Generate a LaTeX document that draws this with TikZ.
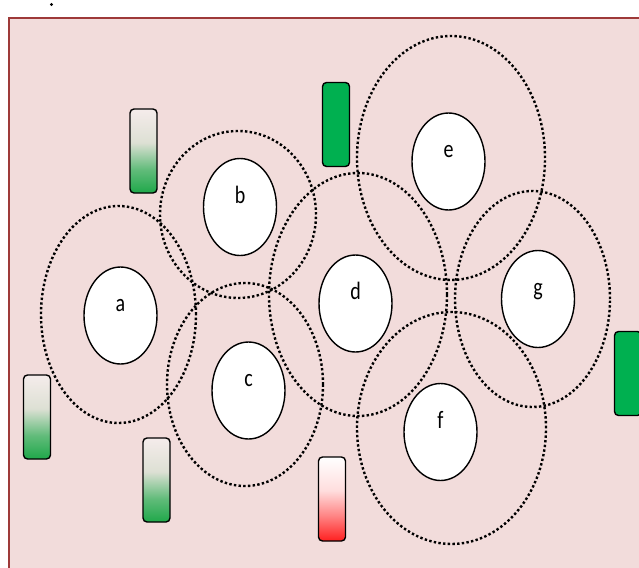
\documentclass[tikz,border=0pt]{standalone}
\usepackage{fontspec}
\setmainfont{Carlito}
\usetikzlibrary{shapes.geometric}
\definecolor{panelfill}{HTML}{F2DCDB}
\definecolor{panelline}{HTML}{9E3A39}
\definecolor{leafgreen}{HTML}{00B050}
\definecolor{fadegreen}{HTML}{1FA84A}
\definecolor{fadetop}{HTML}{F5ECEB}
\definecolor{fademid}{HTML}{DDE0D4}
\definecolor{hotred}{HTML}{FF1F1F}
% gradients: the central 25bp..75bp band spans the bar, bottom to top
\pgfdeclareverticalshading{greenfade}{100bp}{
  color(0bp)=(fadegreen); color(25bp)=(fadegreen);
  color(39bp)=(fadegreen!65!fademid); color(55bp)=(fademid);
  color(75bp)=(fadetop); color(100bp)=(fadetop)}
\pgfdeclareverticalshading{redfade}{100bp}{
  color(0bp)=(hotred); color(25bp)=(hotred);
  color(40bp)=(hotred!55!white); color(55bp)=(hotred!15!white);
  color(75bp)=(white); color(100bp)=(white)}
\tikzset{
  zone/.style={ellipse, draw=black, line width=2.4pt,
    dash pattern=on 2.4pt off 2.3pt, inner sep=0pt},
  cell/.style={ellipse, draw=black, fill=white, line width=1.4pt,
    minimum width=73pt, minimum height=97pt, inner sep=0pt},
  tag/.style={anchor=base, inner sep=0pt, font=\fontsize{20}{20}\selectfont},
  bar/.style={rectangle, rounded corners=4pt, draw=black, line width=1.4pt,
    minimum width=27pt, minimum height=84pt, inner sep=0pt},
  fadebar/.style={bar, shading=greenfade},
  redbar/.style={bar, shading=redfade},
  solidbar/.style={bar, fill=leafgreen},
}
\begin{document}
\begin{tikzpicture}[x=1pt, y=-1pt]
\useasboundingbox (0,0) rectangle (639,567);
% panel
\draw[panelline, fill=panelfill, line width=2.6pt] (9,18) rectangle (660,600);
\fill (51.5,4.5) circle (1.6pt);

% dotted zones
\node[zone, minimum width=155pt, minimum height=217pt] (za) at (118.5,314.5) {};
\node[zone, minimum width=156pt, minimum height=167pt] (zb) at (238,214.5) {};
\node[zone, minimum width=156pt, minimum height=203pt] (zc) at (245,384.5) {};
\node[zone, minimum width=178pt, minimum height=243pt] (zd) at (358,294.5) {};
\node[zone, minimum width=188pt, minimum height=244pt] (ze) at (451,158) {};
\node[zone, minimum width=155pt, minimum height=216pt] (zg) at (532.5,299) {};
\node[zone, minimum width=189pt, minimum height=232pt] (zf) at (451.5,428) {};

% cells
\node[cell] (a) at (120.5,315.5) {};
\node[cell] (b) at (240,207) {};
\node[cell] (c) at (248.5,390.5) {};
\node[cell] (d) at (355.5,303.5) {};
\node[cell] (e) at (448.5,161.5) {};
\node[cell] (g) at (538,299) {};
\node[cell] (f) at (440.5,432) {};
\foreach \n in {a,b,c,d,e,f,g}
  \node[tag] at ([yshift=4pt]\n.center) {\scalebox{1}[1.25]{\n}};

% bars
\node[fadebar] (bar1) at (143.5,151) {};
\node[fadebar] (bar2) at (37,417) {};
\node[fadebar] (bar3) at (156.5,480) {};
\node[redbar] (bar4) at (332,499) {};
\node[solidbar] (bar5) at (336,124.5) {};
\node[solidbar] (bar6) at (628,373.5) {};
\end{tikzpicture}
\end{document}
